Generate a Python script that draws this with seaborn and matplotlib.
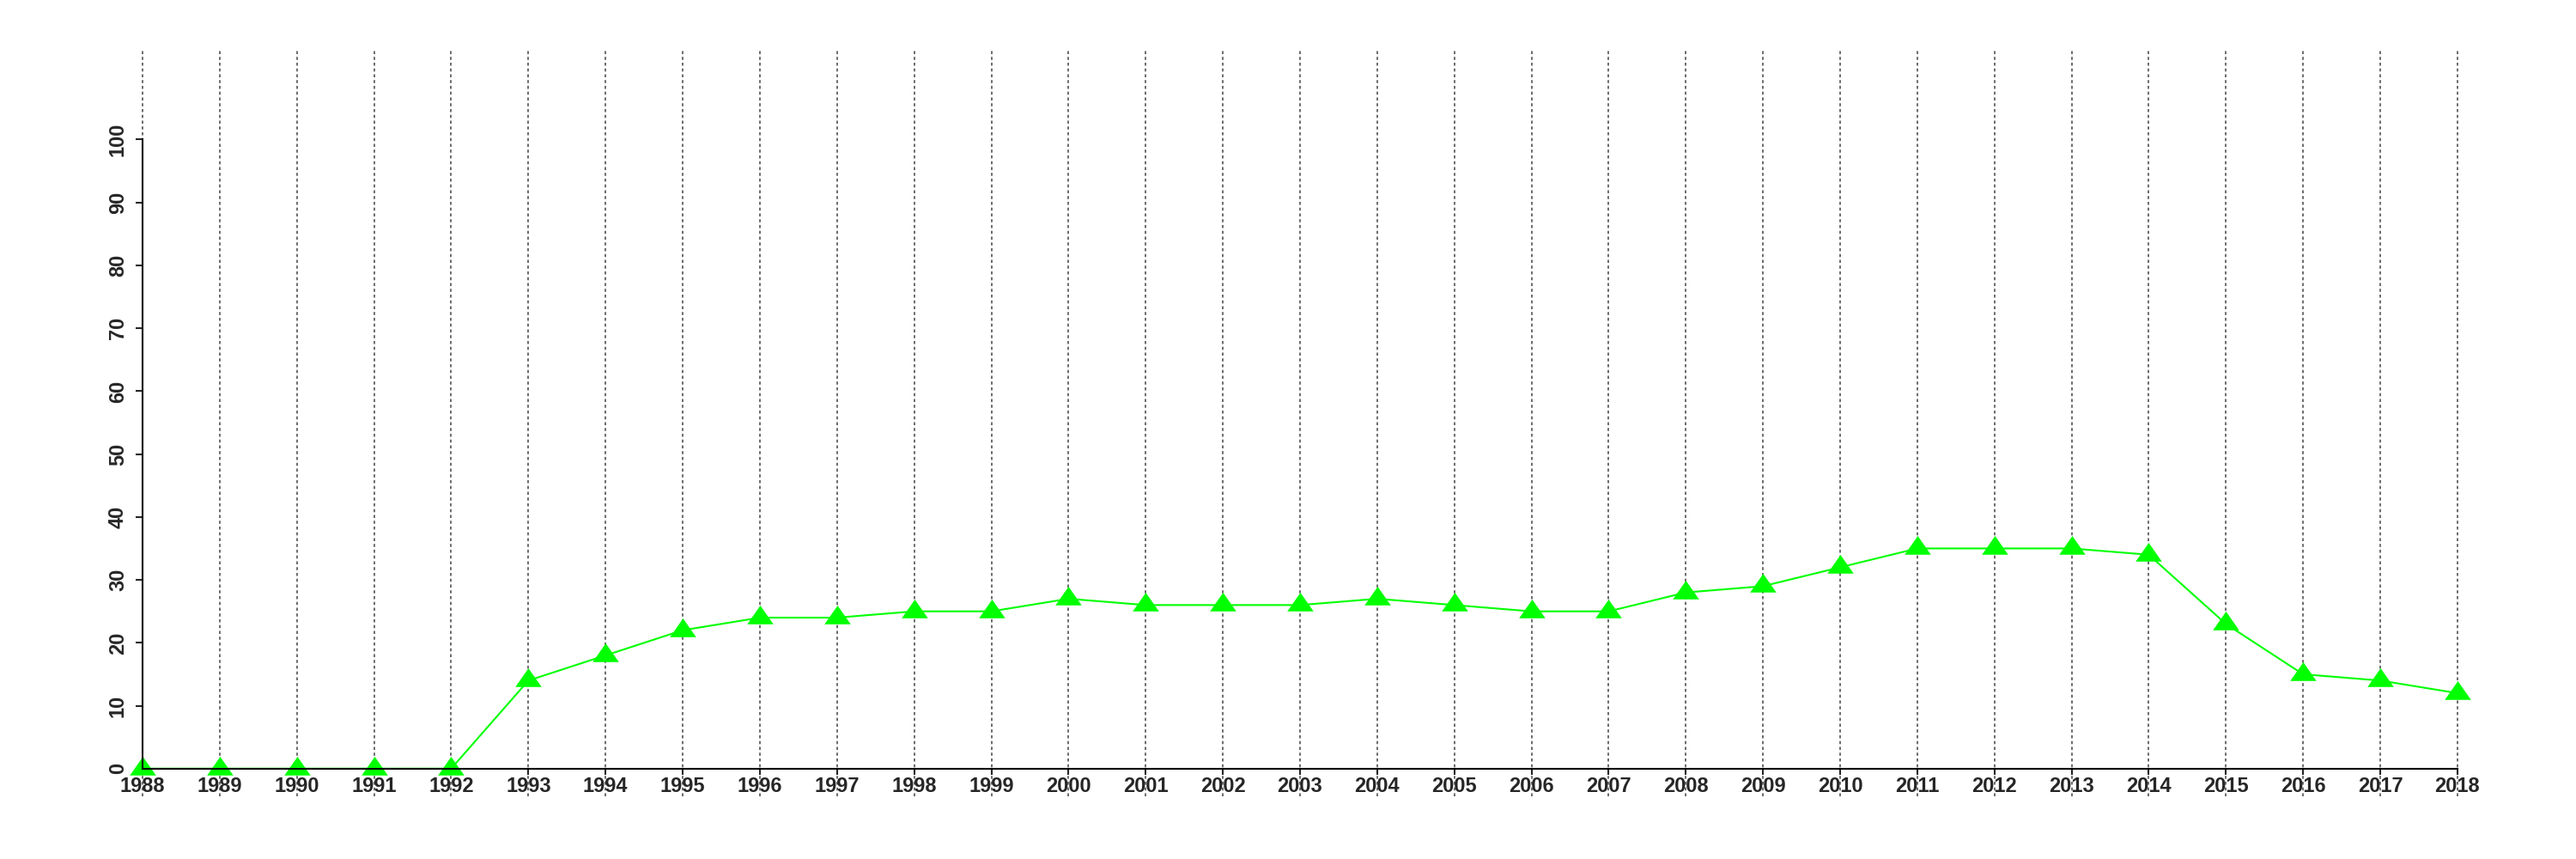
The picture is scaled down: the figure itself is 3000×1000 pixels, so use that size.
import matplotlib
matplotlib.use("Agg")
import matplotlib.pyplot as plt
import seaborn as sns
import pandas as pd

years = list(range(1988, 2019))
values = [0, 0, 0, 0, 0, 14, 18, 22, 24, 24, 25, 25, 27, 26, 26, 26,
          27, 26, 25, 25, 28, 29, 32, 35, 35, 35, 34, 23, 15, 14, 12]
y_ticks = list(range(0, 101, 10))

df = pd.DataFrame({"year": years, "value": values})

sns.set_style("white")
plt.rcParams["font.family"] = ["Liberation Sans", "DejaVu Sans"]
plt.rcParams["font.weight"] = "bold"

# R-style filled triangle (pch 17): point sits at the circumcentre
tri = [(0, 1), (-1.05, -0.5), (1.05, -0.5)]

fig = plt.figure(figsize=(30, 10), dpi=100)
ax = fig.add_axes([0.0194, 0.073, 0.9705, 0.870])

sns.lineplot(data=df, x="year", y="value", ax=ax, color="#00ff00",
             linewidth=1.5, marker=tri, markersize=22,
             markeredgewidth=0, zorder=3)

ax.set_xlim(years[0] - 1.2, years[-1] + 1.2)
ax.set_ylim(-4.4, 114.4)
ax.set_xticks(years)
ax.set_xticklabels([str(y) for y in years])
ax.set_yticks(y_ticks)
ax.set_yticklabels([str(v) for v in y_ticks])

ax.xaxis.grid(True, color="#666666", linewidth=1.35,
              linestyle=(0, (1.9, 1.7)), zorder=0)
ax.yaxis.grid(False)
ax.set_axisbelow(True)

for s in ["top", "right"]:
    ax.spines[s].set_visible(False)
ax.spines["bottom"].set_position(("data", 0))
ax.spines["left"].set_position(("data", years[0]))
ax.spines["bottom"].set_bounds(years[0], years[-1])
ax.spines["left"].set_bounds(0, 100)
for s in ["bottom", "left"]:
    ax.spines[s].set_linewidth(1.5)
    ax.spines[s].set_color("black")
    ax.spines[s].set_zorder(4)

ax.tick_params(axis="x", direction="out", length=4.8, width=1.5, pad=2,
               labelsize=17, bottom=True)
ax.tick_params(axis="y", direction="out", length=5.8, width=1.5, pad=6.5,
               labelsize=17, left=True, labelrotation=90)
for lab in ax.get_yticklabels():
    lab.set_verticalalignment("center")
for lab in ax.get_xticklabels() + ax.get_yticklabels():
    lab.set_fontweight("bold")

ax.set_xlabel("")
ax.set_ylabel("")

fig.savefig("out.png", dpi=100)
